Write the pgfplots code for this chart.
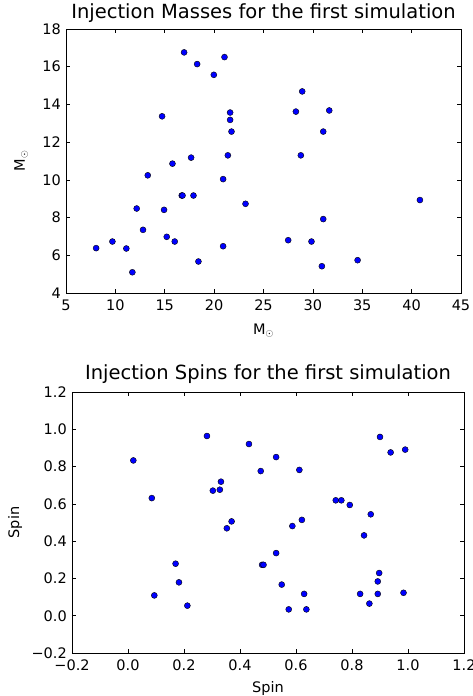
\documentclass[border=0pt]{standalone}
\usepackage{pgfplots}
\pgfplotsset{compat=1.18}
\usepackage{fontspec}
\setmainfont{DejaVu Sans}
\pgfplotsset{
  myax/.style={
    scale only axis,
    axis line style={black, line width=0.9pt},
    tick style={black, line width=0.7pt},
    major tick length=4pt,
    tick align=inside,
    ticklabel style={font=\fontsize{14.5}{16}\selectfont},
    xticklabel style={inner sep=0pt, anchor=north, yshift=-7pt},
    yticklabel style={inner sep=0pt, anchor=east, xshift=-5pt},
    label style={font=\fontsize{14.5}{16}\selectfont},
    title style={font=\fontsize{19.5}{22}\selectfont, at={(0.5,1)}, anchor=base, inner sep=0pt},
  },
  dots/.style={only marks, mark=*, mark size=3pt, mark options={fill=blue, draw=black, line width=0.4pt}},
}
\begin{document}
\begin{tikzpicture}[x=1pt,y=1pt]
\useasboundingbox (0,0) rectangle (473,-696);
\begin{axis}[myax,
  at={(66pt,-293pt)}, anchor=south west,
  width=395pt, height=264pt,
  xmin=5, xmax=45, ymin=4, ymax=18,
  xtick={5,10,15,20,25,30,35,40,45},
  xticklabels={5,10,15,20,25,30,35,40,45},
  ytick={4,6,8,10,12,14,16,18},
  yticklabels={4,6,8,10,12,14,16,18},
  title={Injection Masses for the first simulation},
  title style={yshift=4.3pt},
  xlabel={M$_\odot$}, ylabel={M$_\odot$},
  xlabel style={at={(axis description cs:0.5,0)}, anchor=base, yshift=-41pt, inner sep=0pt},
  ylabel style={at={(axis description cs:-0.1038,0.5)}, anchor=base, rotate=0, inner sep=0pt},
]
\addplot[dots] coordinates {
(8.05,6.38) (9.70,6.73) (11.11,6.36) (11.72,5.10) (12.16,8.48) (12.80,7.35)
(13.28,10.24) (14.73,13.37) (14.93,8.41) (15.20,6.98) (15.78,10.86) (16.01,6.73)
(16.72,9.17) (16.80,9.17) (16.96,16.76) (17.67,11.18) (17.91,9.17) (18.28,16.14)
(18.41,5.67) (19.97,15.57) (20.91,10.04) (20.91,6.48) (21.05,16.51) (21.39,11.30)
(21.62,13.57) (21.62,13.18) (21.76,12.56) (23.18,8.73) (27.50,6.80) (28.28,13.62)
(28.78,11.30) (28.92,14.69) (29.86,6.73) (30.91,5.42) (31.05,7.92) (31.05,12.56)
(31.66,13.68) (34.53,5.74) (40.84,8.93)
};
\end{axis}
\begin{axis}[myax,
  at={(72pt,-653pt)}, anchor=south west,
  width=392pt, height=261pt,
  xmin=-0.2, xmax=1.2, ymin=-0.2, ymax=1.2,
  xtick={-0.2,0,0.2,0.4,0.6,0.8,1.0,1.2},
  xticklabels={−0.2,0.0,0.2,0.4,0.6,0.8,1.0,1.2},
  ytick={-0.2,0,0.2,0.4,0.6,0.8,1.0,1.2},
  yticklabels={−0.2,0.0,0.2,0.4,0.6,0.8,1.0,1.2},
  title={Injection Spins for the first simulation},
  title style={yshift=6.5pt},
  xlabel={Spin}, ylabel={Spin},
  xlabel style={at={(axis description cs:0.5,0)}, anchor=base, yshift=-39pt, inner sep=0pt},
  ylabel style={at={(axis description cs:-0.1352,0.5)}, anchor=base, rotate=0, inner sep=0pt},
]
\addplot[dots] coordinates {
(0.019,0.833) (0.085,0.631) (0.094,0.109) (0.170,0.279) (0.182,0.179) (0.212,0.054)
(0.282,0.964) (0.303,0.671) (0.328,0.676) (0.332,0.719) (0.353,0.469) (0.370,0.506)
(0.432,0.921) (0.474,0.776) (0.479,0.273) (0.484,0.273) (0.529,0.851) (0.529,0.336)
(0.549,0.167) (0.574,0.034) (0.587,0.481) (0.612,0.782) (0.621,0.514) (0.629,0.117)
(0.637,0.034) (0.742,0.619) (0.762,0.619) (0.792,0.594) (0.829,0.117) (0.843,0.431)
(0.862,0.065) (0.867,0.544) (0.892,0.117) (0.892,0.184) (0.897,0.229) (0.900,0.959)
(0.938,0.876) (0.984,0.123) (0.990,0.891)
};
\end{axis}
\end{tikzpicture}
\end{document}
